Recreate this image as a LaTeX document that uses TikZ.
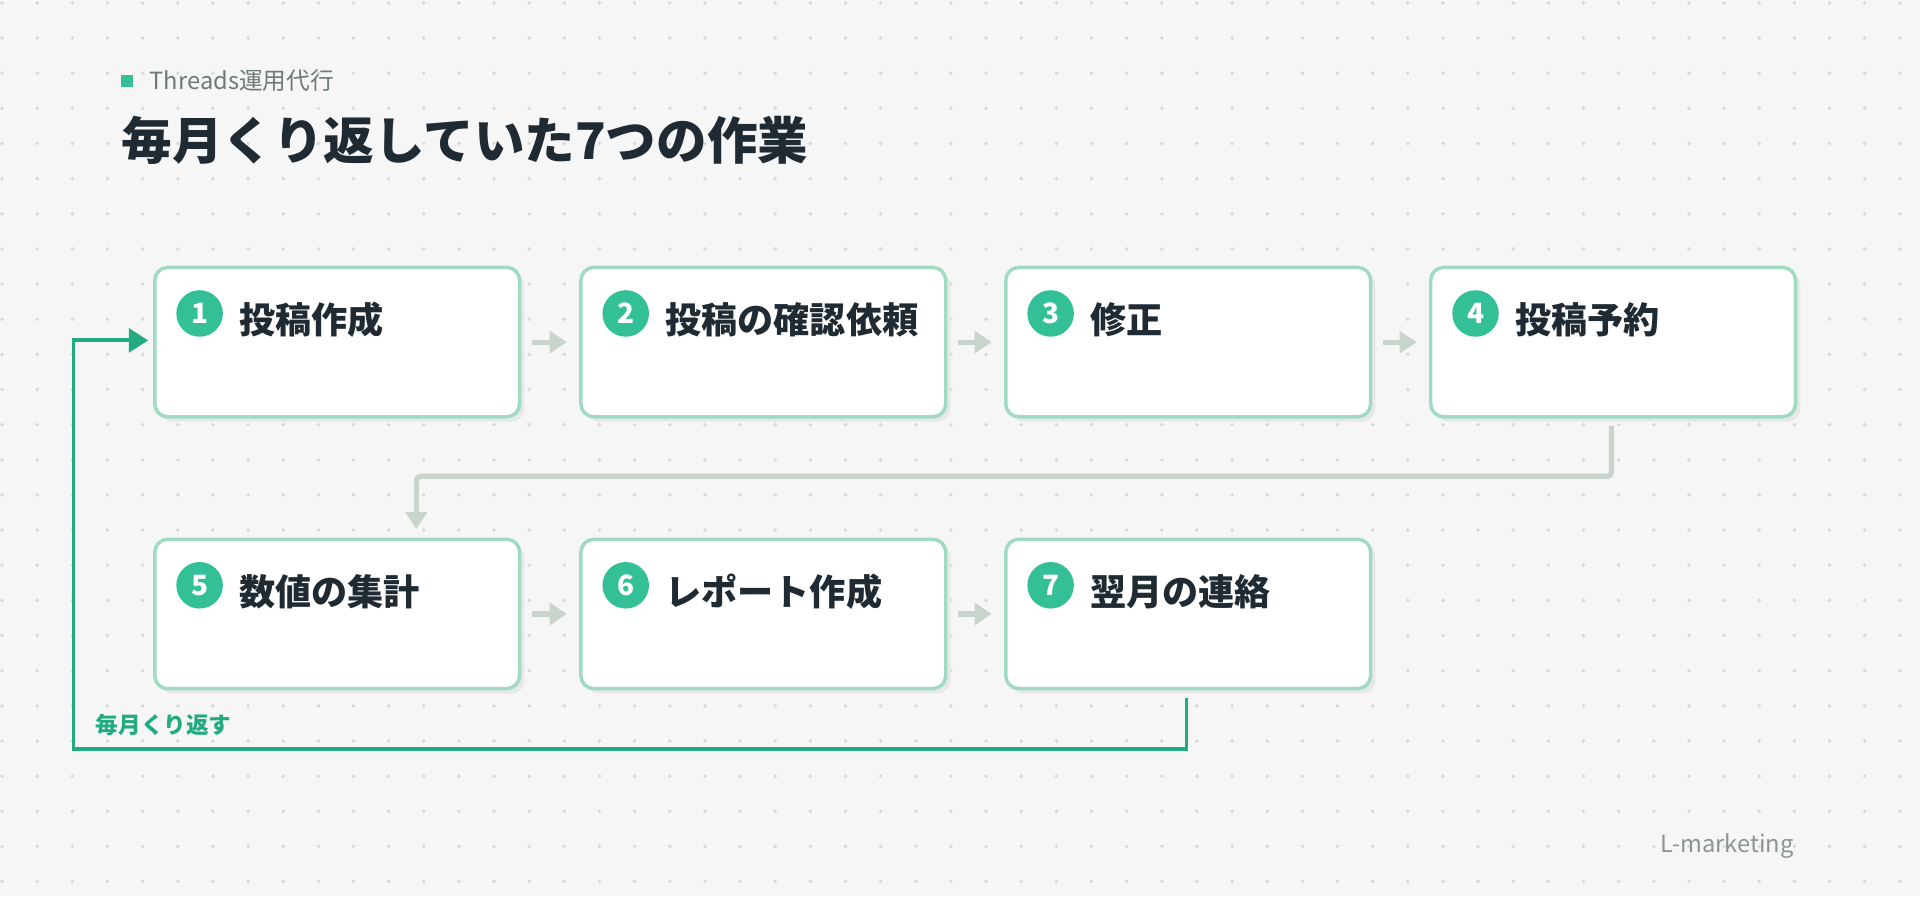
\documentclass[tikz,border=0pt]{standalone}
\usepackage{fontspec}
\setmainfont{Noto Sans CJK JP}
\usetikzlibrary{positioning,arrows.meta}
\definecolor{bgcol}{HTML}{F6F6F6}
\definecolor{dotcol}{HTML}{D6D9D7}
\definecolor{boxline}{HTML}{9FDBC2}
\definecolor{accent}{HTML}{34C096}
\definecolor{loopcol}{HTML}{22AA80}
\definecolor{flowcol}{HTML}{C9D4CD}
\definecolor{inkcol}{HTML}{1F2A33}
\definecolor{mutecol}{HTML}{6F7A76}
\tikzset{
        % Step boxes
        step_box/.style={draw=boxline, line width=1.6pt, fill=white, rounded corners=6pt,
            minimum width=5.96cm, minimum height=2.44cm, anchor=north west, inner sep=0pt},
        % Box shadows
        step_shadow/.style={fill=black!9, rounded corners=6pt, minimum width=5.96cm,
            minimum height=2.44cm, anchor=north west, inner sep=0pt},
        % Numbered badges
        step_num/.style={circle, fill=accent, text=white, font=\bfseries\fontsize{13}{13}\selectfont,
            minimum size=0.76cm, inner sep=0pt},
        % Step titles
        step_text/.style={anchor=west, text=inkcol, font=\bfseries\fontsize{16.8}{16.8}\selectfont, inner sep=0pt},
        % Connectors
        flow/.style={draw=flowcol, line width=2.4pt, -{Triangle[length=8pt,width=10pt]}},
        loop/.style={draw=loopcol, line width=1.8pt, -{Triangle[length=9pt,width=11pt]}}
}
\begin{document}
\begin{tikzpicture}[x=0.02cm, y=-0.02cm]
    \fill[bgcol] (0,0) rectangle (1568,732);
    \useasboundingbox (0,0) rectangle (1568,732);
    \foreach \i in {0,...,54}
        \foreach \j in {0,...,25}
            \fill[dotcol] (1.7+28.7*\i, 2.4+28.7*\j) circle (0.9pt);
    % header
    \fill[accent] (99,61) rectangle (109,71);
    \node[anchor=west, text=mutecol, font=\fontsize{11}{11}\selectfont, inner sep=0pt] (sub) at (122,66) {Threads運用代行};
    \node[anchor=west, text=inkcol, font=\bfseries\fontsize{23.5}{23.5}\selectfont, inner sep=0pt] (title) at (99,115) {毎月くり返していた7つの作業};
    % steps
    \foreach \n/\x/\y/\t in {1/125/217/投稿作成, 2/473/217/投稿の確認依頼, 3/820/217/修正, 4/1167/217/投稿予約,
                             5/125/439/数値の集計, 6/473/439/レポート作成, 7/820/439/翌月の連絡} {
        \node[step_shadow] at (\x+5,\y+5) {};
        \node[step_box] (s\n) at (\x,\y) {};
        \node[step_num] (c\n) at (\x+38,\y+39) {\n};
        \node[step_text] (t\n) at (\x+70,\y+44) {\t};
    }
    % flow
    \foreach \a/\b in {1/2, 2/3, 3/4, 5/6, 6/7}
        \draw[flow] ([xshift=0.18cm]s\a.east) -- ([xshift=-0.2cm]s\b.west);
    \coordinate (turnA) at (1316,389);
    \coordinate (turnB) at (340,389);
    \draw[flow, rounded corners=2pt] ([yshift=-0.12cm]s4.south -| turnA) -- (turnA) -- (turnB) -- ([yshift=0.14cm]turnB |- s5.north);
    % monthly loop
    \coordinate (loopA) at (969,612);
    \coordinate (loopB) at (60,612);
    \coordinate (loopC) at (60,278);
    \draw[loop] ([yshift=-0.12cm]s7.south -| loopA) -- (loopA) -- (loopB) -- (loopC) -- ([xshift=-0.08cm]loopC -| s1.west);
    \node[anchor=west, text=loopcol, font=\bfseries\fontsize{10.5}{10.5}\selectfont, inner sep=0pt] (looplabel) at (78,592) {毎月くり返す};
    \node[anchor=west, text=mutecol!80, font=\fontsize{11}{11}\selectfont, inner sep=0pt] (brand) at (1356,691) {L-marketing};
\end{tikzpicture}
\end{document}
